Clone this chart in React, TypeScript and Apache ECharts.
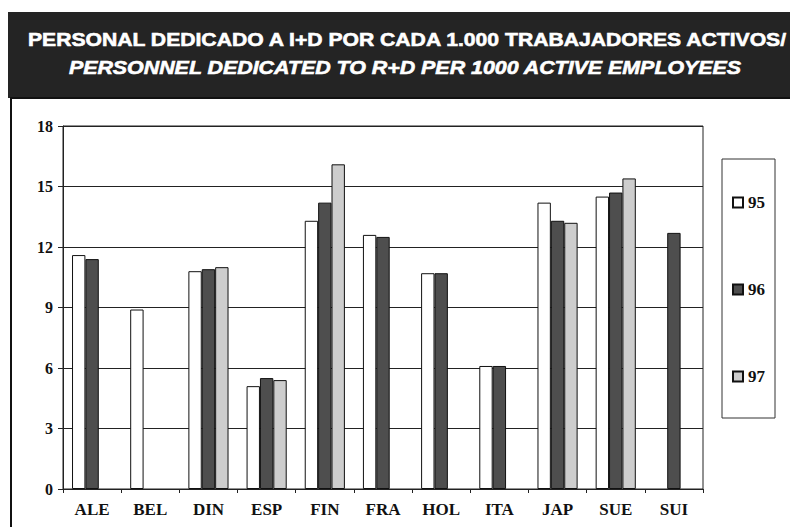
import React, { useEffect, useRef } from "react";
import * as echarts from "echarts";

const categories = ["ALE", "BEL", "DIN", "ESP", "FIN", "FRA", "HOL", "ITA", "JAP", "SUE", "SUI"];
const seriesNames = ["95", "96", "97"];
const values95 = [11.6, 8.9, 10.8, 5.1, 13.3, 12.6, 10.7, 6.1, 14.2, 14.5, null];
const values96 = [11.4, null, 10.9, 5.5, 14.2, 12.5, 10.7, 6.1, 13.3, 14.7, 12.7];
const values97 = [null, null, 11.0, 5.4, 16.1, null, null, null, 13.2, 15.4, null];
const yTicks = { min: 0, max: 18, interval: 3 };
const titleLine1 = "PERSONAL DEDICADO A I+D POR CADA 1.000 TRABAJADORES ACTIVOS/";
const titleLine2 = "PERSONNEL DEDICATED TO R+D PER 1000 ACTIVE EMPLOYEES";

function fitScale(text: string, font: string, target: number): number {
  const c = document.createElement("canvas").getContext("2d");
  if (!c) return 1;
  c.font = font;
  const w = c.measureText(text).width;
  return w > 0 ? target / w : 1;
}

export default function App() {
  const ref = useRef<HTMLDivElement>(null);
  useEffect(() => {
    if (!ref.current) return;
    const chart = echarts.init(ref.current, undefined, { renderer: "svg" });
    const f1 = "bold 19px 'Liberation Sans'";
    const f2 = "italic bold 19px 'Liberation Sans'";
    const s1 = fitScale(titleLine1, f1, 762);
    const s2 = fitScale(titleLine2, f2, 674);
    const serif = "Liberation Serif";
    const barBorder = { borderColor: "#111", borderWidth: 1 };
    chart.setOption({
      animation: false,
      backgroundColor: "#ffffff",
      graphic: [
        {
          type: "rect",
          z: 0,
          shape: { x: 8, y: 12, width: 800, height: 86 },
          style: { fill: "#242424" },
        },
        {
          type: "text",
          z: 1,
          x: 407,
          y: 39,
          scaleX: s1,
          style: {
            text: titleLine1,
            font: f1,
            fill: "#ffffff",
            stroke: "#ffffff",
            lineWidth: 0.6,
            align: "center",
            verticalAlign: "middle",
          },
        },
        {
          type: "text",
          z: 1,
          x: 405,
          y: 67,
          scaleX: s2,
          style: {
            text: titleLine2,
            font: f2,
            fill: "#ffffff",
            stroke: "#ffffff",
            lineWidth: 0.6,
            align: "center",
            verticalAlign: "middle",
          },
        },
        {
          type: "rect",
          z: 0,
          shape: { x: 11, y: 98, width: 800, height: 460 },
          style: { fill: "none", stroke: "#111", lineWidth: 2 },
        },
      ],
      grid: {
        left: 63,
        top: 126,
        right: 87,
        bottom: 38,
        show: true,
        borderColor: "#222",
        borderWidth: 1,
        backgroundColor: "transparent",
      },
      legend: {
        orient: "vertical",
        left: 722,
        top: 159,
        data: seriesNames.map((n) => ({ name: n, icon: "rect" })),
        itemWidth: 10,
        itemHeight: 10,
        itemGap: 70,
        padding: [35, 10, 33, 10],
        borderColor: "#333",
        borderWidth: 1,
        formatter: (name: string) => "{t|" + name + "}",
        textStyle: {
          fontFamily: serif,
          fontWeight: "bold",
          fontSize: 17,
          color: "#111",
          rich: {
            t: {
              fontFamily: serif,
              fontWeight: "bold",
              fontSize: 17,
              lineHeight: 17,
              color: "#111",
            },
          },
        },
      },
      xAxis: {
        type: "category",
        data: categories,
        axisLine: { lineStyle: { color: "#222", width: 1 } },
        axisTick: { show: true, length: 4, lineStyle: { color: "#222" } },
        axisLabel: {
          fontFamily: serif,
          fontWeight: "bold",
          fontSize: 17,
          color: "#111",
          margin: 12,
        },
      },
      yAxis: {
        type: "value",
        min: yTicks.min,
        max: yTicks.max,
        interval: yTicks.interval,
        axisLine: { show: true, lineStyle: { color: "#222", width: 1 } },
        axisTick: { show: true, length: 5, lineStyle: { color: "#222" } },
        axisLabel: {
          fontFamily: serif,
          fontWeight: "bold",
          fontSize: 16,
          color: "#111",
          margin: 10,
        },
        splitLine: { show: true, lineStyle: { color: "#222", width: 1 } },
      },
      series: [
        {
          name: "95",
          type: "bar",
          data: values95,
          barGap: "0%",
          barCategoryGap: "31%",
          itemStyle: { color: "#ffffff", ...barBorder },
        },
        {
          name: "96",
          type: "bar",
          data: values96,
          itemStyle: { color: "#4e4e4e", ...barBorder },
        },
        {
          name: "97",
          type: "bar",
          data: values97,
          itemStyle: { color: "#cdcdcd", ...barBorder },
        },
      ],
    });
    return () => chart.dispose();
  }, []);
  return (
    <div
      ref={ref}
      style={{ position: "fixed", left: 0, top: 0, width: 790, height: 527 }}
    />
  );
}
